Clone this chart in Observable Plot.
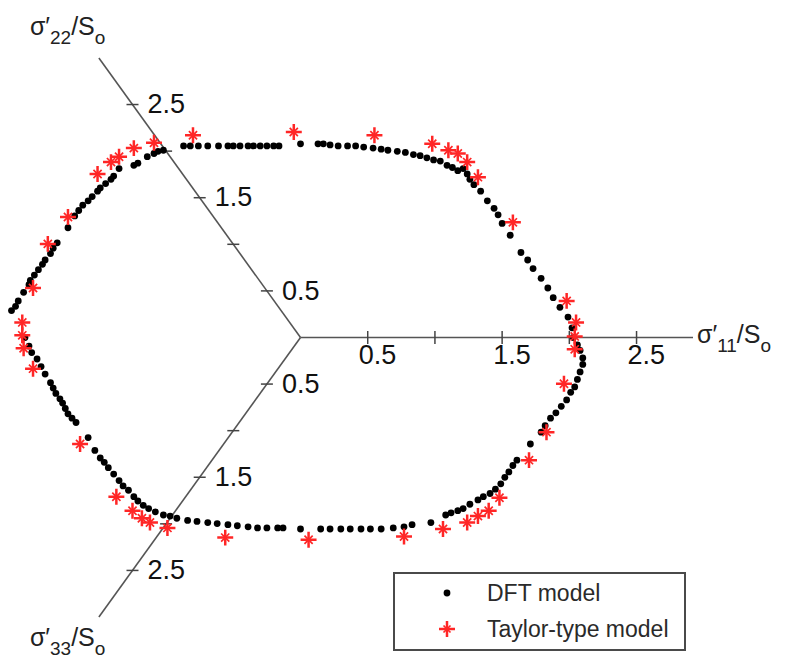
<!DOCTYPE html>
<html>
<head>
<meta charset="utf-8">
<script src="https://cdn.jsdelivr.net/npm/d3@7"></script>
<script src="https://cdn.jsdelivr.net/npm/@observablehq/plot@0.6"></script>
<style>
  body { margin: 0; background: #fff; }
  #chart { position: relative; width: 796px; height: 666px; font-family: "Liberation Sans", Arial, sans-serif; }
  #chart svg { display: block; }
  .legend { position: absolute; left: 393px; top: 572px; width: 289px; height: 75px;
            border: 2px solid #4a4a4a; background: #fff; }
  .legend .item { position: absolute; left: 0; height: 30px; width: 100%; }
  .legend .item svg { position: absolute; left: 40px; top: 5px; }
  .legend .item span { position: absolute; left: 92px; top: 0; line-height: 30px;
            font-size: 23px; color: #2a2a2a; white-space: nowrap; }
</style>
</head>
<body>
<div id="chart"></div>
<script>
// Yield locus in the deviatoric (π) plane, normalised by S0.
// x: horizontal π-plane coordinate, y: vertical π-plane coordinate.

// DFT model
const dftX = [
  2.03, 2.02, 1.99, 1.93, 1.88, 1.84, 1.79, 1.73, 1.69, 1.64, 1.56, 1.50, 1.47, 1.44, 1.39,
  1.34, 1.29, 1.26, 1.24, 1.21, 1.17, 1.13, 1.09, 1.04, 0.99, 0.94, 0.89, 0.84, 0.78, 0.72,
  0.65, 0.60, 0.54, 0.47, 0.41, 0.35, 0.28, 0.22, 0.17, 0.13, 0.00, -0.16, -0.20, -0.25, -0.30,
  -0.35, -0.39, -0.45, -0.50, -0.54, -0.61, -0.69, -0.76, -0.82, -0.87, -1.02, -1.06, -1.09, -1.14, -1.21,
  -1.24, -1.35, -1.39, -1.41, -1.45, -1.49, -1.51, -1.55, -1.58, -1.62, -1.65, -1.68, -1.73, -1.81, -1.84,
  -1.86, -1.90, -1.92, -1.95, -1.98, -2.01, -2.02, -2.06, -2.10, -2.12, -2.15,
  -2.05, -2.02, -2.00, -1.96, -1.93, -1.90, -1.86, -1.84, -1.82, -1.79, -1.77, -1.75, -1.73, -1.70, -1.67,
  -1.58, -1.53, -1.49, -1.46, -1.43, -1.39, -1.35, -1.32, -1.28, -1.24, -1.21, -1.17, -1.13, -1.08, -1.02,
  -0.97, -0.92, -0.84, -0.77, -0.69, -0.62, -0.54, -0.47, -0.39, -0.32, -0.25, -0.17, -0.13, 0.00, 0.15,
  0.22, 0.30, 0.37, 0.45, 0.52, 0.60, 0.69, 0.77, 0.83, 0.97, 1.08, 1.12, 1.17, 1.21, 1.26,
  1.32, 1.36, 1.41, 1.45, 1.49, 1.52, 1.55, 1.58, 1.61, 1.71, 1.79, 1.82, 1.86, 1.90, 1.94,
  1.98, 2.01, 2.04, 2.06, 2.08, 2.10, 2.10, 2.08, 2.06
];
const dftY = [
  0.00, 0.09, 0.19, 0.28, 0.37, 0.46, 0.55, 0.64, 0.72, 0.79, 0.95, 1.06, 1.14, 1.20, 1.27,
  1.36, 1.42, 1.47, 1.52, 1.57, 1.55, 1.58, 1.60, 1.64, 1.65, 1.67, 1.69, 1.70, 1.72, 1.73,
  1.74, 1.75, 1.76, 1.77, 1.78, 1.78, 1.78, 1.79, 1.80, 1.80, 1.80, 1.78, 1.78, 1.78, 1.78,
  1.78, 1.78, 1.78, 1.78, 1.78, 1.78, 1.78, 1.78, 1.78, 1.78, 1.74, 1.73, 1.71, 1.68, 1.62,
  1.60, 1.57, 1.50, 1.47, 1.43, 1.39, 1.36, 1.31, 1.27, 1.23, 1.18, 1.13, 1.02, 0.88, 0.83,
  0.78, 0.72, 0.68, 0.63, 0.58, 0.53, 0.49, 0.42, 0.34, 0.29, 0.25,
  0.00, -0.08, -0.14, -0.20, -0.27, -0.34, -0.42, -0.47, -0.52, -0.57, -0.61, -0.66, -0.71, -0.75, -0.79,
  -0.93, -1.05, -1.12, -1.16, -1.21, -1.27, -1.33, -1.38, -1.42, -1.48, -1.52, -1.56, -1.59, -1.62, -1.65,
  -1.66, -1.68, -1.70, -1.71, -1.72, -1.73, -1.74, -1.75, -1.76, -1.77, -1.77, -1.77, -1.77, -1.78, -1.78,
  -1.78, -1.78, -1.78, -1.78, -1.78, -1.78, -1.77, -1.76, -1.74, -1.72, -1.65, -1.63, -1.61, -1.59, -1.55,
  -1.51, -1.48, -1.45, -1.41, -1.36, -1.30, -1.25, -1.19, -1.14, -0.99, -0.88, -0.82, -0.75, -0.70, -0.64,
  -0.58, -0.51, -0.46, -0.39, -0.32, -0.25, -0.19, -0.12, -0.07
];

// Taylor-type model
const taylorX = [
  -1.51, -1.41, -1.35, -1.24, -1.09, -0.80, -0.05, 0.55, 0.98, 1.10, 1.17, 1.24, 1.32, 1.58,
  1.98, 2.05, 2.04, 2.04, 1.96, 1.83, 1.70, 1.48,
  1.40, 1.32, 1.24, 1.06, 0.77, 0.06, -0.56,
  -0.99, -1.12, -1.18, -1.25, -1.37, -1.64,
  -1.99, -2.06, -2.07, -2.07, -1.99, -1.88, -1.73
];
const taylorY = [
  1.52, 1.63, 1.68, 1.76, 1.81, 1.88, 1.91, 1.88, 1.80, 1.74, 1.71, 1.63, 1.49, 1.07,
  0.34, 0.14, 0.01, -0.11, -0.43, -0.88, -1.14, -1.49,
  -1.61, -1.66, -1.72, -1.78, -1.85, -1.88, -1.86,
  -1.77, -1.72, -1.68, -1.61, -1.48, -0.99,
  -0.29, -0.10, 0.02, 0.14, 0.46, 0.87, 1.12
];

// Principal deviatoric stress axes
const axisNames = ["σ′_{11}/S_{o}", "σ′_{22}/S_{o}", "σ′_{33}/S_{o}"];
const axisAngles = [0, 120, 240];
const axisLengths = [2.92, 3.0, 3.0];
const tickValues = [0.5, 1, 1.5, 2, 2.5];
const tickLabels = ["0.5", "1.5", "2.5"];

const legendLabels = ["DFT model", "Taylor-type model"];

// ---- tables ----
const rad = a => a * Math.PI / 180;
const dft = dftX.map((x, i) => ({x, y: dftY[i]}));
const taylor = taylorX.map((x, i) => ({x, y: taylorY[i]}));
const axes = axisNames.map((name, i) => ({
  name, i, x0: 0, y0: 0,
  x: axisLengths[i] * Math.cos(rad(axisAngles[i])),
  y: axisLengths[i] * Math.sin(rad(axisAngles[i]))
}));
const ticks = axes.flatMap(a => tickValues.map(t => ({
  axis: a.i, t,
  x: t * Math.cos(rad(axisAngles[a.i])),
  y: t * Math.sin(rad(axisAngles[a.i])),
  label: tickLabels.includes(String(t)) ? String(t) : null
})));
const labelled = ticks.filter(d => d.label !== null);

// short dash symbols for tick marks
const dash = (vertical) => ({
  draw(ctx, size) {
    const r = Math.sqrt(size / Math.PI);
    if (vertical) { ctx.moveTo(0, -r); ctx.lineTo(0, r); }
    else { ctx.moveTo(-r, 0); ctx.lineTo(r, 0); }
  }
});

const red = "#ff2626";
const fontFamily = '"Liberation Sans", Arial, sans-serif';

const chart = Plot.plot({
  width: 796,
  height: 666,
  margin: 0,
  style: {fontFamily, background: "#fff"},
  x: {domain: [-2.232, 3.690], axis: null},
  y: {domain: [-3.058, 3.132], axis: null},
  marks: [
    Plot.link(axes, {x1: "x0", y1: "y0", x2: "x", y2: "y", stroke: "#555", strokeWidth: 1.6}),
    Plot.dot(ticks.filter(d => d.axis === 0), {x: "x", y: "y", symbol: dash(true), r: 6.5,
      fill: "none", stroke: "#444", strokeWidth: 1.5}),
    Plot.dot(ticks.filter(d => d.axis !== 0), {x: "x", y: "y", symbol: dash(false), r: 6,
      fill: "none", stroke: "#444", strokeWidth: 1.5}),
    Plot.text(labelled.filter(d => d.axis === 0), {x: "x", y: "y", text: "label",
      textAnchor: "start", dx: -9, dy: 18, fontSize: 27, fill: "#111"}),
    Plot.text(labelled.filter(d => d.axis !== 0), {x: "x", y: "y", text: "label",
      textAnchor: "start", dx: 15, dy: 0, fontSize: 27, fill: "#111"}),
    Plot.text(axes.filter(d => d.i === 0), {x: "x", y: "y", text: "name", className: "axis-name",
      textAnchor: "start", dx: 4, dy: -2, fontSize: 25, fill: "#222"}),
    Plot.text(axes.filter(d => d.i === 1), {x: "x", y: "y", text: "name", className: "axis-name",
      textAnchor: "start", dx: -69, dy: -31, fontSize: 25, fill: "#222"}),
    Plot.text(axes.filter(d => d.i === 2), {x: "x", y: "y", text: "name", className: "axis-name",
      textAnchor: "start", dx: -69, dy: 21, fontSize: 25, fill: "#222"}),
    Plot.dot(dft, {x: "x", y: "y", r: 3.4, fill: "#000"}),
    Plot.dot(taylor, {x: "x", y: "y", symbol: "plus", r: 5.2, stroke: red, strokeWidth: 2.5}),
    Plot.dot(taylor, {x: "x", y: "y", symbol: "times", r: 3.8, stroke: red, strokeWidth: 1.7})
  ]
});

// subscripts in the axis names: "_{..}" becomes a lowered, smaller tspan
d3.select(chart).selectAll("g.axis-name text").each(function () {
  const raw = this.textContent;
  const el = d3.select(this);
  el.text(null);
  let lowered = false;
  raw.split(/(_\{[^}]*\})/).filter(Boolean).forEach(part => {
    if (part.startsWith("_{")) {
      el.append("tspan").attr("dy", 9).attr("font-size", 19).text(part.slice(2, -1));
      lowered = true;
    } else {
      const t = el.append("tspan").text(part);
      if (lowered) { t.attr("dy", -9); lowered = false; }
    }
  });
});

const root = document.getElementById("chart");
root.appendChild(chart);

// legend
const legend = document.createElement("div");
legend.className = "legend";
const markers = [
  '<svg width="24" height="20"><circle cx="12" cy="10" r="3.4" fill="#000"/></svg>',
  `<svg width="24" height="20"><path d="M12,2V18M4,10H20" stroke="${red}" stroke-width="2.5"/>` +
  `<path d="M8.5,6.5L15.5,13.5M15.5,6.5L8.5,13.5" stroke="${red}" stroke-width="1.7"/></svg>`
];
legendLabels.forEach((label, i) => {
  const item = document.createElement("div");
  item.className = "item";
  item.style.top = (i === 0 ? 4 : 40) + "px";
  item.innerHTML = markers[i] + `<span>${label}</span>`;
  legend.appendChild(item);
});
root.appendChild(legend);
</script>
</body>
</html>
